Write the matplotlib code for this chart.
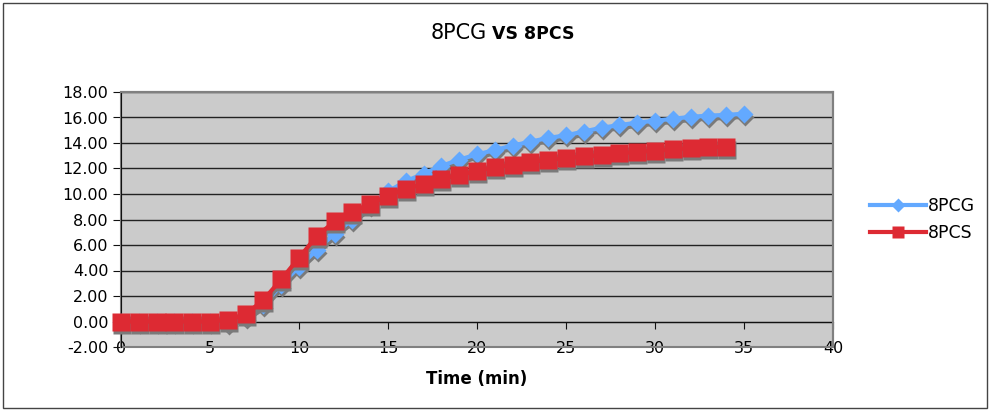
import numpy as np
import matplotlib
matplotlib.use("Agg")
import matplotlib.pyplot as plt
from matplotlib import transforms
from matplotlib.lines import Line2D
from matplotlib.patches import Rectangle

# data
time_pcg = list(range(0, 36))
pcg = [0, 0, 0, 0, 0, 0, -0.1, 0.35, 1.3, 2.85, 4.3, 5.6, 6.9, 8.0, 9.1, 10.2,
       11.0, 11.6, 12.2, 12.7, 13.1, 13.45, 13.8, 14.1, 14.4, 14.6, 14.9, 15.2,
       15.4, 15.6, 15.75, 15.9, 16.05, 16.15, 16.2, 16.3]
time_pcs = list(range(0, 35))
pcs = [0, 0, 0, 0, 0, 0, 0.15, 0.55, 1.7, 3.3, 5.0, 6.7, 7.85, 8.6, 9.25, 9.85,
       10.4, 10.8, 11.2, 11.5, 11.8, 12.1, 12.3, 12.5, 12.7, 12.8, 12.95, 13.05,
       13.2, 13.3, 13.4, 13.5, 13.6, 13.65, 13.7]
labels = ["8PCG", "8PCS"]
xticks = [0, 5, 10, 15, 20, 25, 30, 35, 40]
yticks = [-2, 0, 2, 4, 6, 8, 10, 12, 14, 16, 18]

BLUE = "#63A9FF"
RED = "#DD2A33"
SHADOW = "#7A7A7A"

plt.rcParams['font.family'] = ['DejaVu Sans']

W, H = 991, 411
fig = plt.figure(figsize=(W / 100, H / 100), dpi=100)
ax = fig.add_axes([121 / W, 1 - 347 / H, (833 - 121) / W, (347 - 92) / H])
ax.set_facecolor("#CBCBCB")

# outer chart border
fig.patches.append(Rectangle((3 / W, 3 / H), (987 - 3) / W, (408 - 3) / H,
                             transform=fig.transFigure, fill=False,
                             edgecolor="#444444", linewidth=1))

shadow_tr = transforms.offset_copy(ax.transData, fig=fig, x=1, y=-3, units='dots')

series = [(time_pcg, pcg, BLUE, 'D', 8.8), (time_pcs, pcs, RED, 's', 12.5)]
for i, (x, y, c, m, ms) in enumerate(series):
    ax.plot(x, y, color=SHADOW, lw=3, marker=m, ms=ms, mec='none',
            transform=shadow_tr, zorder=3 + 2 * i, clip_on=False)
    ax.plot(x, y, color=c, lw=3, marker=m, ms=ms, mec='none',
            zorder=4 + 2 * i, clip_on=False)

ax.set_xlim(0, 40)
ax.set_ylim(-2, 18)
ax.set_yticks(yticks)
ax.set_yticklabels([f"{v:.2f}" for v in yticks])
ax.set_xticks(xticks)
ax.set_xticklabels([str(v) for v in xticks])
ax.yaxis.grid(True, color="#222222", lw=1)
ax.set_axisbelow(True)

for s in ["top", "right"]:
    ax.spines[s].set_color("#808080")
    ax.spines[s].set_linewidth(1.5)
ax.spines["left"].set_color("#111111")
ax.spines["bottom"].set_color("#111111")
ax.spines["bottom"].set_position(("data", 0))
ax.spines["bottom"].set_zorder(2)
ax.add_patch(Rectangle((0, 0), 1, 1, transform=ax.transAxes, fill=False,
                       edgecolor="#808080", lw=1.5, clip_on=False, zorder=1))

ax.tick_params(axis='y', direction='out', length=6, pad=3, labelsize=11.5,
               color="#111111")
ax.tick_params(axis='x', direction='out', length=5, pad=9, labelsize=11.5,
               color="#111111")

fig.text(477 / W, 1 - 379 / H, "Time (min)", ha='center', va='center',
         fontsize=12, fontweight='bold')

fig.text(487 / W, 1 - 33 / H, "8PCG", ha='right', va='center', fontsize=15)
fig.text(492 / W, 1 - 34 / H, "VS 8PCS", ha='left', va='center', fontsize=12.5,
         fontweight='bold')

handles = [Line2D([], [], color=BLUE, lw=3, marker='D', ms=7, mec='none'),
           Line2D([], [], color=RED, lw=3, marker='s', ms=8, mec='none')]
fig.legend(handles, labels, loc='center left',
           bbox_to_anchor=(870 / W, 1 - 219.5 / H), frameon=False,
           borderpad=0, borderaxespad=0, handlelength=3.2, handletextpad=0.15,
           labelspacing=0.55, fontsize=12.5)

fig.savefig("out.png", dpi=100)
